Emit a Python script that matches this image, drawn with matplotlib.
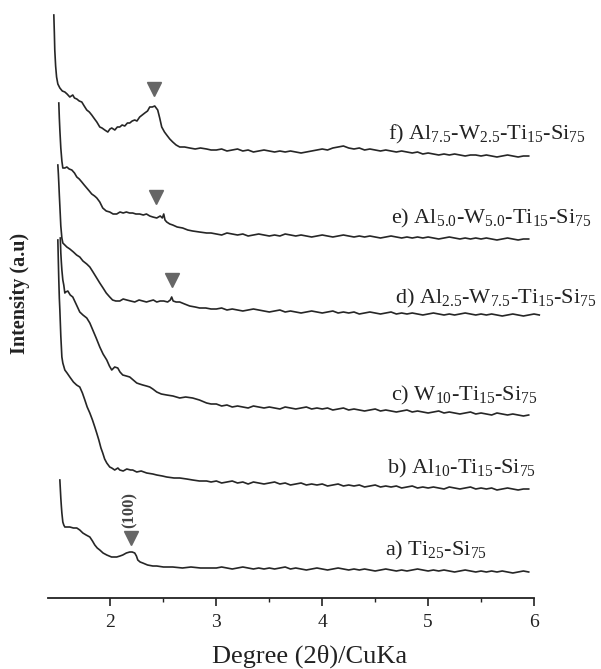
import matplotlib

matplotlib.use("Agg")
import matplotlib.pyplot as plt
from matplotlib.ticker import FixedLocator

# ----------------------------------------------------------------------------
# Data: low-angle XRD patterns, intensity in arbitrary units (offset stacked)
# ----------------------------------------------------------------------------
TAIL_2T = [3.00, 3.05, 3.10, 3.15, 3.20, 3.25, 3.30, 3.35, 3.40, 3.45,
           3.50, 3.55, 3.60, 3.65, 3.70, 3.75, 3.80, 3.85, 3.90, 3.95,
           4.00, 4.05, 4.10, 4.15, 4.20, 4.25, 4.30, 4.35, 4.40, 4.45,
           4.50, 4.55, 4.60, 4.65, 4.70, 4.75, 4.80, 4.85, 4.90, 4.95,
           5.00, 5.05, 5.10, 5.15, 5.20, 5.25, 5.30, 5.35, 5.40, 5.45,
           5.50, 5.55, 5.60, 5.65, 5.70, 5.75, 5.80, 5.85, 5.90, 5.95]

F_2T = [1.465, 1.470, 1.474, 1.482, 1.491, 1.503, 1.522, 1.545, 1.569, 1.590,
        1.616, 1.644, 1.660, 1.682, 1.705, 1.729, 1.752, 1.776, 1.800, 1.823,
        1.850, 1.871, 1.899, 1.920, 1.946, 1.975, 1.995, 2.012, 2.041, 2.065,
        2.088, 2.110, 2.135, 2.160, 2.182, 2.205, 2.229, 2.250, 2.276, 2.300,
        2.324, 2.350, 2.371, 2.395, 2.418, 2.446, 2.465, 2.484, 2.510, 2.531,
        2.560, 2.588, 2.620, 2.654, 2.700, 2.748, 2.800, 2.850, 2.908, 2.950]
F_I = [583, 565, 548, 532, 521, 514, 510, 507, 506, 504,
       501, 503, 500, 499, 497, 496, 492, 488, 486, 483,
       479, 476, 471, 470, 468, 466, 469, 470, 468, 471,
       471, 473, 472, 475, 475, 477, 478, 477, 481, 483,
       485, 487, 491, 491, 492, 488, 480, 471, 466, 463,
       459, 456, 453, 451, 451, 450, 449, 450, 449, 448]
F_TAIL = [448, 449, 447, 448, 449, 447, 448, 446, 447, 448,
          447, 446, 447, 446, 447, 446, 445, 446, 447, 448,
          449, 448, 450, 451, 452, 450, 449, 450, 448, 449,
          448, 447, 448, 447, 446, 447, 446, 445, 446, 444,
          445, 444, 443, 444, 443, 444, 443, 442, 443, 443,
          442, 443, 442, 441, 442, 443, 442, 441, 442, 442]

E_2T = [1.512, 1.517, 1.522, 1.531, 1.541, 1.550, 1.569, 1.588, 1.610, 1.635,
        1.660, 1.682, 1.705, 1.729, 1.752, 1.776, 1.800, 1.823, 1.850, 1.871,
        1.899, 1.927, 1.960, 1.993, 2.025, 2.059, 2.090, 2.120, 2.150, 2.180,
        2.210, 2.240, 2.276, 2.310, 2.340, 2.371, 2.400, 2.437, 2.470, 2.490,
        2.503, 2.515, 2.531, 2.560, 2.588, 2.630, 2.682, 2.730, 2.776, 2.840,
        2.908, 2.950]
E_I = [495, 480, 468, 450, 437, 430, 430, 431, 429, 428,
       425, 421, 419, 416, 413, 410, 407, 404, 402, 400,
       396, 390, 387, 386, 384, 384, 386, 385, 386, 385,
       385, 384, 384, 383, 384, 382, 381, 380, 382, 380,
       384, 378, 376, 374, 373, 371, 370, 368, 367, 366,
       365, 365]
E_TAIL = [364, 363, 365, 364, 363, 364, 362, 363, 364, 363,
          362, 363, 362, 364, 363, 362, 363, 362, 361, 362,
          363, 362, 361, 362, 363, 362, 361, 362, 361, 362,
          361, 360, 361, 362, 361, 360, 361, 360, 361, 360,
          361, 360, 359, 360, 361, 360, 359, 360, 359, 360,
          359, 360, 359, 358, 359, 360, 359, 358, 359, 359]

D_2T = [1.503, 1.508, 1.512, 1.517, 1.522, 1.531, 1.541, 1.550, 1.569, 1.588,
        1.616, 1.650, 1.680, 1.710, 1.740, 1.776, 1.805, 1.835, 1.870, 1.899,
        1.930, 1.960, 1.993, 2.020, 2.050, 2.088, 2.120, 2.154, 2.190, 2.229,
        2.270, 2.305, 2.340, 2.371, 2.405, 2.437, 2.470, 2.503, 2.540, 2.565,
        2.578, 2.592, 2.620, 2.654, 2.700, 2.748, 2.800, 2.842, 2.900, 2.950]
D_I = [433, 424, 415, 403, 392, 372, 360, 355, 353, 351,
       349, 346, 343, 341, 337, 334, 331, 326, 320, 315,
       310, 305, 301, 298, 297, 297, 299, 298, 297, 296,
       298, 297, 296, 297, 298, 296, 297, 297, 296, 298,
       301, 297, 296, 296, 294, 292, 291, 290, 290, 289]
D_TAIL = [289, 290, 288, 289, 288, 287, 288, 289, 288, 287,
          286, 287, 288, 286, 287, 286, 285, 286, 287, 286,
          285, 286, 287, 285, 286, 285, 286, 284, 285, 286,
          285, 284, 285, 286, 284, 285, 284, 285, 284, 283,
          284, 285, 284, 283, 284, 283, 284, 285, 284, 283,
          284, 283, 284, 283, 282, 283, 284, 283, 282, 283]
D_END_2T = [6.00, 6.05]
D_END_I = [284, 283]

C_2T = [1.526, 1.531, 1.536, 1.541, 1.550, 1.559, 1.569, 1.578, 1.597, 1.620,
        1.644, 1.675, 1.710, 1.740, 1.776, 1.805, 1.833, 1.865, 1.899, 1.930,
        1.965, 1.990, 2.012, 2.040, 2.069, 2.090, 2.116, 2.150, 2.182, 2.215,
        2.248, 2.275, 2.305, 2.340, 2.371, 2.400, 2.437, 2.480, 2.531, 2.590,
        2.654, 2.710, 2.776, 2.840, 2.908, 2.950]
C_I = [360, 345, 336, 328, 318, 313, 305, 306, 307, 303,
       301, 294, 286, 283, 280, 275, 268, 260, 251, 244,
       238, 232, 228, 231, 230, 226, 223, 222, 221, 218,
       215, 214, 213, 212, 211, 209, 206, 204, 203, 202,
       200, 201, 200, 198, 195, 194]
C_TAIL = [194, 192, 193, 191, 192, 191, 190, 192, 191, 190,
          191, 190, 189, 191, 190, 189, 190, 191, 189, 190,
          189, 190, 188, 189, 190, 188, 189, 188, 187, 188,
          189, 187, 188, 187, 186, 187, 188, 186, 187, 186,
          185, 186, 187, 185, 186, 185, 184, 185, 186, 184,
          185, 184, 183, 185, 184, 183, 184, 183, 182, 183]

B_2T = [1.503, 1.508, 1.512, 1.517, 1.522, 1.531, 1.541, 1.550, 1.569, 1.590,
        1.616, 1.650, 1.680, 1.710, 1.735, 1.758, 1.780, 1.805, 1.830, 1.852,
        1.870, 1.890, 1.910, 1.927, 1.945, 1.965, 1.993, 2.012, 2.040, 2.070,
        2.088, 2.120, 2.154, 2.190, 2.210, 2.248, 2.290, 2.342, 2.400, 2.437,
        2.490, 2.531, 2.600, 2.654, 2.720, 2.776, 2.840, 2.908, 2.950]
B_I = [358, 335, 318, 300, 288, 262, 241, 235, 228, 225,
       221, 216, 213, 211, 205, 198, 191, 185, 178, 171,
       165, 158, 150, 145, 139, 135, 131, 130, 128, 130,
       128, 127, 129, 128, 128, 126, 127, 125, 124, 123,
       122, 121, 120, 120, 119, 118, 117, 117, 116]
B_TAIL = [117, 115, 116, 117, 115, 116, 114, 116, 115, 114,
          115, 116, 114, 115, 113, 114, 115, 113, 114, 113,
          114, 112, 113, 114, 112, 113, 112, 113, 111, 112,
          113, 111, 112, 111, 112, 110, 111, 112, 110, 111,
          110, 111, 110, 109, 111, 110, 109, 110, 111, 109,
          110, 109, 110, 108, 109, 110, 109, 108, 109, 109]

A_2T = [1.522, 1.526, 1.531, 1.536, 1.541, 1.550, 1.559, 1.569, 1.590, 1.616,
        1.650, 1.682, 1.710, 1.739, 1.770, 1.805, 1.830, 1.852, 1.875, 1.899,
        1.930, 1.965, 2.010, 2.059, 2.090, 2.116, 2.150, 2.182, 2.205, 2.229,
        2.245, 2.258, 2.280, 2.305, 2.350, 2.400, 2.437, 2.500, 2.588, 2.680,
        2.760, 2.850, 2.908, 2.950]
A_I = [118, 110, 100, 92, 85, 76, 73, 71, 71, 71,
       70, 70, 68, 65, 63, 61, 57, 53, 50, 48,
       45, 43, 41, 41, 42, 43, 45, 46, 46, 45,
       42, 38, 36, 35, 33, 32, 32, 31, 31, 30,
       31, 30, 30, 30]
A_TAIL = [30, 31, 30, 29, 30, 31, 30, 29, 30, 29,
          30, 29, 30, 31, 29, 30, 29, 28, 29, 30,
          29, 28, 29, 30, 29, 28, 29, 28, 29, 28,
          27, 28, 29, 28, 27, 28, 27, 28, 29, 28,
          27, 28, 27, 28, 27, 26, 27, 28, 27, 26,
          27, 26, 27, 26, 27, 26, 25, 26, 27, 26]

# reflection markers (2θ, intensity)
MARK_2T = [2.408, 2.427, 2.578, 2.192]
MARK_I = [509, 401, 318, 60]

LABELS = [
    r"f) Al$_{7.5}$-W$_{2.5}$-Ti$_{15}$-Si$_{75}$",
    r"e) Al$_{5.0}$-W$_{5.0}$-Ti$_{15}$-Si$_{75}$",
    r"d) Al$_{2.5}$-W$_{7.5}$-Ti$_{15}$-Si$_{75}$",
    r"c) W$_{10}$-Ti$_{15}$-Si$_{75}$",
    r"b) Al$_{10}$-Ti$_{15}$-Si$_{75}$",
    r"a) Ti$_{25}$-Si$_{75}$",
]
X_TICKS = [2, 3, 4, 5, 6]
X_MINOR = [2.5, 3.5, 4.5, 5.5]

# layout
LABEL_POS = [(4.618, 459), (4.654, 375), (4.685, 295), (4.645, 198), (4.608, 125), (4.597, 43)]
COR_LINHA = "#262626"
COR_MARCA = "#666666"

plt.rcParams["font.family"] = ["Liberation Serif", "DejaVu Serif"]
plt.rcParams["mathtext.fontset"] = "custom"
plt.rcParams["mathtext.rm"] = "Liberation Serif"
plt.rcParams["mathtext.it"] = "Liberation Serif:italic"
plt.rcParams["mathtext.bf"] = "Liberation Serif:bold"


def main():
    fig = plt.figure(figsize=(6.01, 6.69), dpi=100)
    ax = fig.add_axes([48 / 601, 1 - 598 / 669, 486 / 601, 598 / 669])

    curvas = [
        (F_2T + TAIL_2T, F_I + F_TAIL),
        (E_2T + TAIL_2T, E_I + E_TAIL),
        (D_2T + TAIL_2T + D_END_2T, D_I + D_TAIL + D_END_I),
        (C_2T + TAIL_2T, C_I + C_TAIL),
        (B_2T + TAIL_2T, B_I + B_TAIL),
        (A_2T + TAIL_2T, A_I + A_TAIL),
    ]
    for x, y in curvas:
        ax.plot(x, y, color=COR_LINHA, linewidth=1.2, clip_on=False)

    ax.plot(MARK_2T, MARK_I, linestyle="none", marker="v", markersize=10,
            color=COR_MARCA, clip_on=False)
    ax.text(2.182, 88, "(100)", rotation=90, ha="center", va="center",
            fontsize=12, fontweight="bold", color="#444444")

    for texto, (xl, yl) in zip(LABELS, LABEL_POS):
        ax.text(xl, yl, texto, fontsize=16, ha="left", va="baseline",
                color="#222222", clip_on=False)

    ax.set_xlim(1.41, 6.0)
    ax.set_ylim(0, 598)
    ax.set_xticks(X_TICKS)
    ax.xaxis.set_minor_locator(FixedLocator(X_MINOR))
    ax.set_yticks([])
    for lado in ("top", "right", "left"):
        ax.spines[lado].set_visible(False)
    ax.spines["bottom"].set_linewidth(1.3)
    ax.spines["bottom"].set_color("#222222")
    ax.tick_params(axis="x", which="major", direction="out", length=5.5, width=1.2,
                   labelsize=14, pad=6, colors="#222222")
    ax.tick_params(axis="x", which="minor", direction="out", length=3, width=1.0,
                   colors="#222222")
    ax.patch.set_alpha(0)

    fig.text(310 / 601, 1 - 656 / 669, "Degree (2θ)/CuKa", fontsize=19,
             ha="center", va="center", color="#222222")
    fig.text(20 / 601, 1 - 293 / 669, "Intensity (a.u)", fontsize=14.5,
             fontweight="bold", rotation=90, ha="center", va="center",
             color="#222222")

    fig.savefig("out.png", dpi=100, facecolor="white")
    plt.close(fig)


if __name__ == "__main__":
    main()
